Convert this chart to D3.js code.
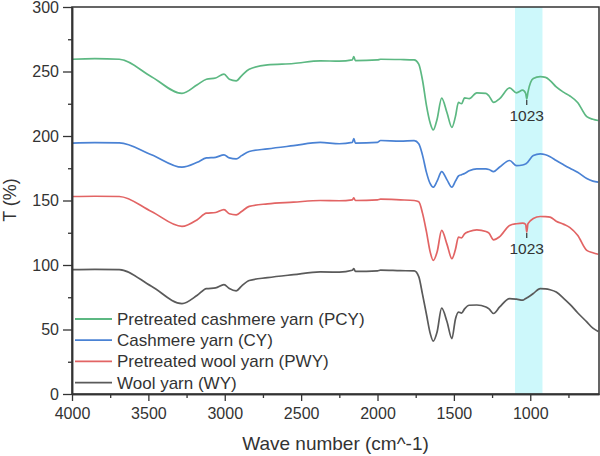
<!DOCTYPE html>
<html>
<head>
<meta charset="utf-8">
<script src="https://cdn.jsdelivr.net/npm/d3@7"></script>
<style>
  body { margin: 0; background: #fff; }
  svg { font-family: Arial, "Liberation Sans", sans-serif; }
</style>
</head>
<body>
<div id="chart"></div>
<script>
// wave numbers shared by every spectrum (cm^-1)
var waveNumbers = [4000, 3850, 3690, 3480, 3280, 3180, 3120, 3060, 3005, 2970, 2925, 2890, 2840, 2720, 2550, 2375, 2250, 2165, 2155, 2145, 2000, 1980, 1850, 1760, 1730, 1705, 1680, 1655, 1635, 1610, 1580, 1545, 1513, 1490, 1470, 1450, 1430, 1400, 1350, 1290, 1270, 1240, 1200, 1135, 1090, 1050, 1030, 1023, 1015, 980, 935, 900, 870, 830, 780, 740, 690, 630, 590, 555];

var pcy = [259.5, 260, 259.5, 246, 233, 239.7, 244, 245, 248, 244, 242.8, 246.7, 251.8, 255.2, 256.2, 258.3, 258, 259, 261.5, 258.5, 259, 259.5, 259.3, 259, 255.7, 243, 224, 210, 204.7, 213, 229.4, 218, 206.7, 215, 226, 225, 229.5, 229, 233.5, 233, 231, 226, 229, 237.3, 233.5, 235.5, 233, 228.6, 234, 244.5, 246, 245.5, 243, 238, 233.8, 231, 226, 215, 213, 212];
var cy = [194.5, 194.8, 194.6, 185.5, 175.8, 179.6, 183, 183.5, 185.3, 183, 182.2, 184.8, 188, 190, 192.5, 195, 194, 195, 198, 194.5, 195, 196.5, 196, 196.4, 194, 185, 172, 163, 160.3, 165, 172.4, 166, 160.3, 165, 169, 170, 171, 173, 174.5, 174.5, 174, 172.4, 176, 181, 177, 177.5, 178.4, 179, 180, 184.8, 186.1, 185.5, 184, 181, 177.6, 175, 171.9, 167, 165, 164.2];
var pwy = [153.1, 153.3, 153.1, 141.5, 129.9, 135.1, 140.2, 140.7, 143, 139.7, 138.9, 141.5, 145.4, 147.4, 148.7, 150, 149.8, 150.5, 152, 150, 150.5, 151, 150.5, 150, 149, 140, 126, 110, 103.6, 110, 126.8, 116, 104.9, 112, 121.6, 121, 124.2, 126, 127.3, 126, 124.7, 119.5, 122, 130.7, 132, 132.5, 131.5, 125.5, 132, 136, 137.6, 137.5, 137.1, 134, 131.5, 129, 123, 111.3, 109.5, 108.3];
var wy = [96.4, 96.6, 96.4, 83.5, 70.1, 76.5, 81.7, 82.2, 84.8, 81.7, 79.9, 83.7, 88, 90.2, 92.5, 94.6, 94.5, 95.9, 97.2, 95, 95.4, 96, 95.6, 95.4, 91, 77, 62, 47, 41, 48, 66.5, 56, 43, 58, 63.5, 62.7, 66, 68.8, 69, 67.5, 66, 62.4, 67.5, 74, 73.5, 72.7, 74, 74.5, 75, 77.9, 81.7, 81.5, 80.8, 79, 74, 69.5, 63, 55.9, 51, 48.5];

var seriesNames = ["Pretreated cashmere yarn (PCY)", "Cashmere yarn (CY)", "Pretreated wool yarn (PWY)", "Wool yarn (WY)"];
var seriesValues = [pcy, cy, pwy, wy];
var seriesColors = ["#5cb882", "#4a82d4", "#e26464", "#5a5a5a"];

var xTicks = [4000, 3500, 3000, 2500, 2000, 1500, 1000];
var yTicks = [0, 50, 100, 150, 200, 250, 300];
var band = [1100, 920];
var peakLabels = [{wn: 1023, t: 228.6, text: "1023"}, {wn: 1023, t: 125.5, text: "1023"}];

var width = 600, height = 456;
var plotLeft = 72, plotRight = 599, plotTop = 7, plotBottom = 394;

var svg = d3.select("#chart").append("svg").attr("width", width).attr("height", height);

var x = d3.scaleLinear().domain([4000, 550]).range([plotLeft, plotRight]);
var y = d3.scaleLinear().domain([0, 300]).range([plotBottom, plotTop]);

// highlighted band
svg.append("rect").attr("x", x(band[0])).attr("y", plotTop).attr("width", x(band[1]) - x(band[0])).attr("height", plotBottom - plotTop).attr("fill", "#cdf8fb");

// spectra
var line = d3.line().x(function (d) { return x(d[0]); }).y(function (d) { return y(d[1]); }).curve(d3.curveMonotoneX);
seriesValues.forEach(function (vals, i) {
    var pts = waveNumbers.map(function (w, j) { return [w, vals[j]]; });
    svg.append("path").datum(pts).attr("d", line).attr("fill", "none").attr("stroke", seriesColors[i]).attr("stroke-width", 1.7).attr("stroke-linejoin", "round");
});

// frame
svg.append("rect").attr("x", plotLeft).attr("y", plotTop).attr("width", plotRight - plotLeft).attr("height", plotBottom - plotTop).attr("fill", "none").attr("stroke", "#333").attr("stroke-width", 1.5);

// axes
svg.append("g").attr("transform", "translate(0," + plotBottom + ")")
    .call(d3.axisBottom(x).tickValues(xTicks).tickFormat(d3.format("d")).tickSize(7).tickPadding(7).tickSizeOuter(0));
svg.append("g").attr("transform", "translate(0," + plotBottom + ")")
    .call(d3.axisBottom(x).tickValues([3750, 3250, 2750, 2250, 1750, 1250, 750]).tickSize(4).tickFormat("").tickSizeOuter(0));
svg.append("g").attr("transform", "translate(" + plotLeft + ",0)")
    .call(d3.axisLeft(y).tickValues(yTicks).tickFormat(d3.format("d")).tickSize(9).tickPadding(4).tickSizeOuter(0));
svg.append("g").attr("transform", "translate(" + plotLeft + ",0)")
    .call(d3.axisLeft(y).tickValues([25, 75, 125, 175, 225, 275]).tickSize(4).tickFormat("").tickSizeOuter(0));

svg.selectAll(".domain").attr("stroke", "#333").attr("stroke-width", 1.5);
svg.selectAll(".tick line").attr("stroke", "#333").attr("stroke-width", 1.3);
svg.selectAll(".tick text").attr("fill", "#333").style("font-size", "16px").style("font-family", "Arial, 'Liberation Sans', sans-serif");

// axis titles
svg.append("text").attr("x", (plotLeft + plotRight) / 2).attr("y", 450).attr("text-anchor", "middle").attr("fill", "#333").style("font-size", "19px").text("Wave number (cm^-1)");
svg.append("text").attr("transform", "translate(16,200)rotate(-90)").attr("text-anchor", "middle").attr("fill", "#333").style("font-size", "18px").text("T (%)");

// peak labels
peakLabels.forEach(function (p) {
    var px = x(p.wn), py = y(p.t);
    svg.append("line").attr("x1", px).attr("x2", px).attr("y1", py + 1).attr("y2", py + 6).attr("stroke", "#333").attr("stroke-width", 1.2);
    svg.append("text").attr("x", px).attr("y", py + 22).attr("text-anchor", "middle").attr("fill", "#333").style("font-size", "15.5px").text(p.text);
});

// legend
var legend = svg.append("g");
seriesNames.forEach(function (name, i) {
    var ly = 319 + i * 21.2;
    legend.append("line").attr("x1", 75).attr("x2", 112).attr("y1", ly).attr("y2", ly).attr("stroke", seriesColors[i]).attr("stroke-width", 1.8);
    legend.append("text").attr("x", 117).attr("y", ly).attr("dy", "0.35em").attr("fill", "#333").style("font-size", "17px").text(name);
});
</script>
</body>
</html>
